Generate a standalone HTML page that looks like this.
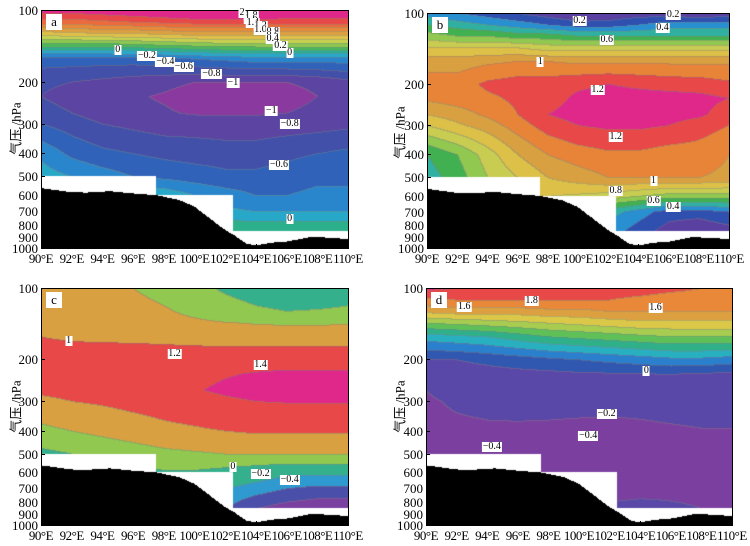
<!DOCTYPE html>
<html><head><meta charset="utf-8"><style>
body{margin:0;background:#fff;width:750px;height:546px;overflow:hidden;position:relative;font-family:"Liberation Serif","Noto Serif CJK SC",serif;}
canvas{position:absolute;}
.frame{position:absolute;border:1px solid #000;box-sizing:border-box;}
.yl{position:absolute;font-size:13px;text-align:right;width:34px;line-height:13px;}
.xl{position:absolute;font-size:13px;line-height:13px;white-space:nowrap;transform:translateX(-50%);letter-spacing:-0.5px;}
.lab{position:absolute;font-size:10px;line-height:10px;background:#fff;padding:0 1px;transform:translate(-50%,-50%);white-space:nowrap;}
.tag{position:absolute;background:#fff;font-size:13px;width:16px;height:16px;line-height:15px;text-align:center;}
.yt{position:absolute;font-size:13px;transform:rotate(-90deg);transform-origin:center;white-space:nowrap;font-family:"Liberation Serif","Noto Sans CJK SC",serif;}
.tk{position:absolute;background:#000;}
</style></head><body>
<script>
const LONS=[90,92,94,96,98,100,102,104,106,108,110];
const PLEV=[100,112,125,140,160,200,230,270,300,400,500,600,700,850];
const valsA=[
[1.9,1.9,1.95,2.0,2.05,2.1,2.1,2.1,2.05,2.0,2.0],
[1.5,1.5,1.55,1.6,1.65,1.7,1.7,1.7,1.7,1.7,1.7],
[0.9,0.95,1.0,1.0,1.05,1.1,1.1,1.1,1.1,1.1,1.1],
[0.3,0.3,0.3,0.35,0.4,0.45,0.5,0.5,0.5,0.5,0.5],
[-0.5,-0.5,-0.5,-0.5,-0.45,-0.4,-0.35,-0.3,-0.3,-0.3,-0.3],
[-0.75,-0.8,-0.85,-0.9,-0.95,-1.0,-1.0,-1.0,-1.0,-0.95,-0.85],
[-0.8,-0.9,-0.95,-0.98,-1.02,-1.08,-1.1,-1.1,-1.08,-1.0,-0.9],
[-0.7,-0.8,-0.9,-0.95,-0.98,-1.02,-1.02,-1.02,-1.0,-0.95,-0.9],
[-0.6,-0.7,-0.8,-0.85,-0.9,-0.9,-0.92,-0.92,-0.9,-0.88,-0.85],
[-0.25,-0.45,-0.55,-0.6,-0.65,-0.68,-0.7,-0.7,-0.65,-0.6,-0.55],
[-0.1,-0.2,-0.3,-0.4,-0.45,-0.5,-0.55,-0.55,-0.5,-0.45,-0.45],
[0,0,0,0,-0.05,-0.2,-0.3,-0.4,-0.4,-0.35,-0.35],
[0,0,0,0,0,-0.1,-0.15,-0.2,-0.2,-0.2,-0.2],
[0.2,0.2,0.2,0.2,0.2,0.2,0.2,0.2,0.2,0.2,0.2]];
const valsB=[
[0.35,0.3,0.25,0.2,0.15,0.1,0.12,0.15,0.15,0.12,0.15],
[0.5,0.45,0.4,0.35,0.3,0.25,0.25,0.3,0.35,0.35,0.35],
[0.65,0.6,0.6,0.55,0.55,0.5,0.5,0.5,0.5,0.5,0.5],
[0.8,0.8,0.8,0.8,0.75,0.75,0.75,0.75,0.75,0.75,0.75],
[0.95,0.95,0.98,1.0,1.0,0.98,0.98,0.98,0.98,0.98,0.98],
[1.05,1.05,1.12,1.15,1.15,1.18,1.2,1.18,1.16,1.15,1.12],
[1.02,1.05,1.08,1.12,1.16,1.22,1.24,1.24,1.24,1.23,1.2],
[0.9,0.95,1.02,1.1,1.2,1.24,1.25,1.25,1.24,1.22,1.15],
[0.8,0.88,0.95,1.05,1.15,1.2,1.22,1.22,1.2,1.15,1.1],
[0.5,0.6,0.75,0.9,1.0,1.05,1.08,1.08,1.05,1.05,1.0],
[0.45,0.55,0.7,0.8,0.9,0.95,1.0,1.0,1.0,1.0,0.98],
[0.8,0.8,0.8,0.8,0.8,0.78,0.75,0.7,0.65,0.65,0.65],
[0.6,0.6,0.6,0.6,0.6,0.5,0.45,0.35,0.25,0.25,0.3],
[0.5,0.5,0.5,0.5,0.5,0.45,0.35,0.25,0.15,0.1,0.15]];
const valsC=[
[0.8,0.75,0.7,0.6,0.45,0.3,0.15,0.05,0.0,0.0,0.05],
[0.85,0.8,0.75,0.68,0.55,0.4,0.25,0.15,0.1,0.1,0.15],
[0.9,0.85,0.8,0.75,0.65,0.5,0.35,0.25,0.2,0.22,0.25],
[0.95,0.9,0.86,0.82,0.75,0.68,0.62,0.58,0.56,0.56,0.58],
[1.0,0.97,0.95,0.93,0.9,0.86,0.82,0.8,0.8,0.8,0.8],
[1.1,1.12,1.15,1.18,1.2,1.22,1.25,1.28,1.3,1.3,1.3],
[1.12,1.15,1.2,1.24,1.28,1.33,1.38,1.42,1.44,1.44,1.44],
[1.08,1.13,1.18,1.24,1.3,1.38,1.45,1.5,1.5,1.5,1.5],
[0.9,1.0,1.05,1.12,1.18,1.25,1.35,1.4,1.42,1.42,1.42],
[0.5,0.6,0.7,0.8,0.9,0.95,1.0,1.05,1.05,1.05,1.05],
[0.1,0.2,0.3,0.4,0.5,0.55,0.6,0.6,0.6,0.6,0.6],
[0.1,0.1,0.1,0.1,0.15,0.15,0.05,-0.05,-0.15,-0.15,-0.15],
[0,0,0,0,0,-0.1,-0.2,-0.3,-0.4,-0.45,-0.45],
[0,0,0,0,0,-0.2,-0.4,-0.6,-0.7,-0.75,-0.75]];
const valsD=[
[2.05,2.0,1.95,1.95,1.95,1.95,1.9,1.9,1.85,1.8,1.8],
[1.75,1.8,1.8,1.8,1.8,1.8,1.8,1.75,1.7,1.7,1.7],
[1.45,1.5,1.5,1.5,1.55,1.55,1.6,1.6,1.6,1.6,1.6],
[1.0,1.05,1.1,1.15,1.2,1.25,1.3,1.35,1.35,1.35,1.35],
[0.5,0.55,0.6,0.7,0.8,0.85,0.9,0.95,1.0,1.0,1.0],
[-0.02,0,0.05,0.1,0.15,0.2,0.25,0.3,0.35,0.35,0.3],
[-0.1,-0.1,-0.08,-0.06,-0.05,-0.03,-0.02,-0.01,0,-0.02,-0.05],
[-0.3,-0.15,-0.14,-0.13,-0.12,-0.12,-0.12,-0.1,-0.08,-0.06,-0.05],
[-0.35,-0.25,-0.2,-0.2,-0.2,-0.2,-0.2,-0.18,-0.15,-0.12,-0.1],
[-0.4,-0.38,-0.36,-0.35,-0.36,-0.38,-0.4,-0.38,-0.35,-0.32,-0.32],
[-0.42,-0.45,-0.42,-0.4,-0.42,-0.45,-0.45,-0.45,-0.45,-0.45,-0.42],
[-0.45,-0.45,-0.45,-0.45,-0.45,-0.45,-0.45,-0.45,-0.45,-0.42,-0.4],
[-0.4,-0.4,-0.4,-0.4,-0.4,-0.4,-0.4,-0.4,-0.38,-0.38,-0.38],
[-0.35,-0.35,-0.35,-0.35,-0.35,-0.3,-0.25,-0.2,-0.25,-0.3,-0.3]];
const levelsA=[-1,-0.8,-0.6,-0.4,-0.2,0,0.2,0.4,0.6,0.8,1.0,1.2,1.4,1.6,1.8];
const levelsB=[0.2,0.3,0.4,0.5,0.6,0.7,0.8,0.9,1.0,1.1,1.2];
const levelsC=[-0.6,-0.4,-0.2,0.2,0.6,1.0,1.4];
const levelsD=[-0.3,0,0.2,0.4,0.6,0.8,1.0,1.2,1.4,1.6,1.8,2.0];
const colorsA=["#8a3a9e","#5c44a2","#4250aa","#2f62b8","#2a86cc","#28a8c8","#2cb08c","#4cb858","#8cc850","#c8d050","#e0c048","#dca040","#e88838","#ec6a3c","#e84848","#e0288a"];
const colorsB=["#5a40a0","#3050b0","#2890d0","#30b0a0","#40b050","#90c850","#c8cc50","#dcc048","#d8a040","#e88438","#e84848","#e0288a"];
const colorsC=["#7a40a0","#4a50aa","#2f9ad0","#34b08c","#90c850","#d8a040","#e84848","#e0288a"];
const colorsD=["#7b3fa0","#5a48a8","#3058b0","#2a80cc","#28b0c0","#30b088","#60c058","#a8cc50","#dcc848","#dca040","#e88838","#e84848","#e0288a"];
const topoLon=[90,92,93,94.5,96,97.5,98,99,100,101,102,102.6,103.4,104,105,106,107.5,109,110];
const topoP=[560,583,585,577,590,600,609,628,670,750,840,885,960,975,950,940,900,905,920];
const xTicks=["90°E","92°E","94°E","96°E","98°E","100°E","102°E","104°E","106°E","108°E","110°E"];
const yTicks=[100,200,300,400,500,600,700,800,900,1000];
const labelsA=[["2",103.1,103],["1.8",103.7,106],["1.6",103.7,109.5],["1.4",103.8,113],["1.2",104.3,117],["1.0",104.3,121],["0.8",105.1,124],["0.6",105.1,128],["0.4",105.1,133],["0.2",105.6,141],["0",106.2,151],["0",95.0,147],["−0.2",96.9,156],["−0.4",98.1,165],["−0.6",99.3,174],["−0.8",101.1,186],["−1",102.5,202],["−1",105.0,265],["−0.8",106.2,301],["−0.6",105.5,448],["0",106.2,756]];
const labelsB=[["0.2",100.1,108],["0.2",106.3,102],["0.4",105.6,116],["0.6",101.9,130],["1",97.5,161],["1.2",101.3,212],["1.2",102.5,337],["1",105.0,518],["0.8",102.5,574],["0.6",105.0,629],["0.4",106.3,668]];
const labelsC=[["1",91.8,167],["1.2",98.7,190],["1.4",104.3,212],["0",102.5,570],["−0.2",104.3,609],["−0.4",106.2,645]];
const labelsD=[["1.6",92.5,120],["1.8",96.9,113],["1.6",105.0,122],["0",104.4,224],["−0.2",101.8,340],["−0.4",100.6,420],["−0.4",94.3,469]];

const panels=[
 {id:"a",L:41,R:348,T:10,B:248,vals:valsA,lev:levelsA,col:colorsA,labs:labelsA,ytx:10,yty:127,xly:252},
 {id:"b",L:427,R:729,T:13,B:248,vals:valsB,lev:levelsB,col:colorsB,labs:labelsB,ytx:394,yty:131,xly:252},
 {id:"c",L:41,R:348,T:288,B:525,vals:valsC,lev:levelsC,col:colorsC,labs:labelsC,ytx:10,yty:405,xly:529},
 {id:"d",L:426,R:732,T:288,B:525,vals:valsD,lev:levelsD,col:colorsD,labs:labelsD,ytx:394,yty:405,xly:529}];

function hex(c){return [parseInt(c.substr(1,2),16),parseInt(c.substr(3,2),16),parseInt(c.substr(5,2),16)];}
function valAt(g,lon,p){
 let fi=(lon-LONS[0])/(LONS[1]-LONS[0]);let i=Math.max(0,Math.min(LONS.length-2,Math.floor(fi)));let ti=Math.max(0,Math.min(1,fi-i));
 p=Math.max(PLEV[0],Math.min(PLEV[PLEV.length-1],p));
 let j=0;while(j<PLEV.length-2&&p>PLEV[j+1])j++;
 let tj=(Math.log(p)-Math.log(PLEV[j]))/(Math.log(PLEV[j+1])-Math.log(PLEV[j]));
 const a=g[j][i]*(1-ti)+g[j][i+1]*ti, b=g[j+1][i]*(1-ti)+g[j+1][i+1]*ti;
 return a*(1-tj)+b*tj;}
function idx(lev,v){let k=0;while(k<lev.length&&v>=lev[k])k++;return k;}
function maskP(lon){return lon<97.5?500:(lon<102.5?600:850);}
function topo(lon){for(let k=0;k<topoLon.length-1;k++){if(lon<=topoLon[k+1]){const t=(lon-topoLon[k])/(topoLon[k+1]-topoLon[k]);return topoP[k]+(topoP[k+1]-topoP[k])*t;}}return topoP[topoP.length-1];}

panels.forEach(P=>{
 const W=P.R-P.L,H=P.B-P.T;
 const xs=lon=>P.L+(lon-90)/20*W;
 const ys=p=>P.T+(Math.log10(p)-2)*H;
 const cv=document.createElement('canvas');
 
 
 cv.width=W;cv.height=H;cv.style.left=P.L+'px';cv.style.top=P.T+'px';
 const ctx=cv.getContext('2d');const im=ctx.createImageData(W,H);
 const cols=P.col.map(hex);
 const ids=new Int16Array(W*H);
 for(let y=0;y<H;y++){const p=Math.pow(10,2+(y+0.5)/H);
  for(let x=0;x<W;x++){const lon=90+(x+0.5)/W*20;
   let k;if(p>=topo(lon))k=-2;else if(p>=maskP(lon))k=-1;else k=idx(P.lev,valAt(P.vals,lon,p));
   ids[y*W+x]=k;}}
 for(let y=0;y<H;y++)for(let x=0;x<W;x++){const k=ids[y*W+x];const o=(y*W+x)*4;let c;
  if(k==-2)c=[0,0,0];else if(k==-1)c=[255,255,255];else{c=cols[k].slice();
   const up=y>0?ids[(y-1)*W+x]:k,lf=x>0?ids[y*W+x-1]:k;
   if((up>=0&&up!=k)||(lf>=0&&lf!=k))c=c.map(v=>Math.round(v*0.6+128*0.4));}
  im.data[o]=c[0];im.data[o+1]=c[1];im.data[o+2]=c[2];im.data[o+3]=255;}
 ctx.putImageData(im,0,0);
 document.body.appendChild(cv);
 const fr=document.createElement('div');fr.className='frame';
 
 
 fr.style.cssText=`left:${P.L}px;top:${P.T}px;width:${W+1}px;height:${H+1}px`;document.body.appendChild(fr);
 const tg=document.createElement('div');tg.className='tag';tg.textContent=P.id;
 
 
 tg.style.left=(P.L+5)+'px';tg.style.top=(P.T+4)+'px';document.body.appendChild(tg);
 yTicks.forEach(v=>{const d=document.createElement('div');d.className='yl';d.textContent=v;
  
  
  d.style.left=(P.L-37)+'px';d.style.top=(ys(v)-6)+'px';document.body.appendChild(d);
  const t=document.createElement('div');t.className='tk';
  
  
  t.style.cssText=`left:${P.L}px;top:${Math.round(ys(v))}px;width:4px;height:1px`;document.body.appendChild(t);});
 xTicks.forEach((s,i)=>{const d=document.createElement('div');d.className='xl';d.textContent=s;
  
  
  d.style.left=xs(LONS[i])+'px';d.style.top=P.xly+'px';document.body.appendChild(d);
  const t=document.createElement('div');t.className='tk';
  
  
  t.style.cssText=`left:${Math.round(xs(LONS[i]))}px;top:${P.B-4}px;width:1px;height:4px`;document.body.appendChild(t);});
 const yt=document.createElement('div');yt.className='yt';yt.textContent='气压 /hPa';
 
 
 yt.style.left=(P.ytx-30)+'px';yt.style.top=(P.yty-8)+'px';yt.style.width='70px';yt.style.textAlign='center';document.body.appendChild(yt);
 P.labs.forEach(l=>{const d=document.createElement('div');d.className='lab';d.textContent=l[0];
  
  
  d.style.left=xs(l[1])+'px';d.style.top=ys(l[2])+'px';document.body.appendChild(d);});
});
</script>
</body></html>
